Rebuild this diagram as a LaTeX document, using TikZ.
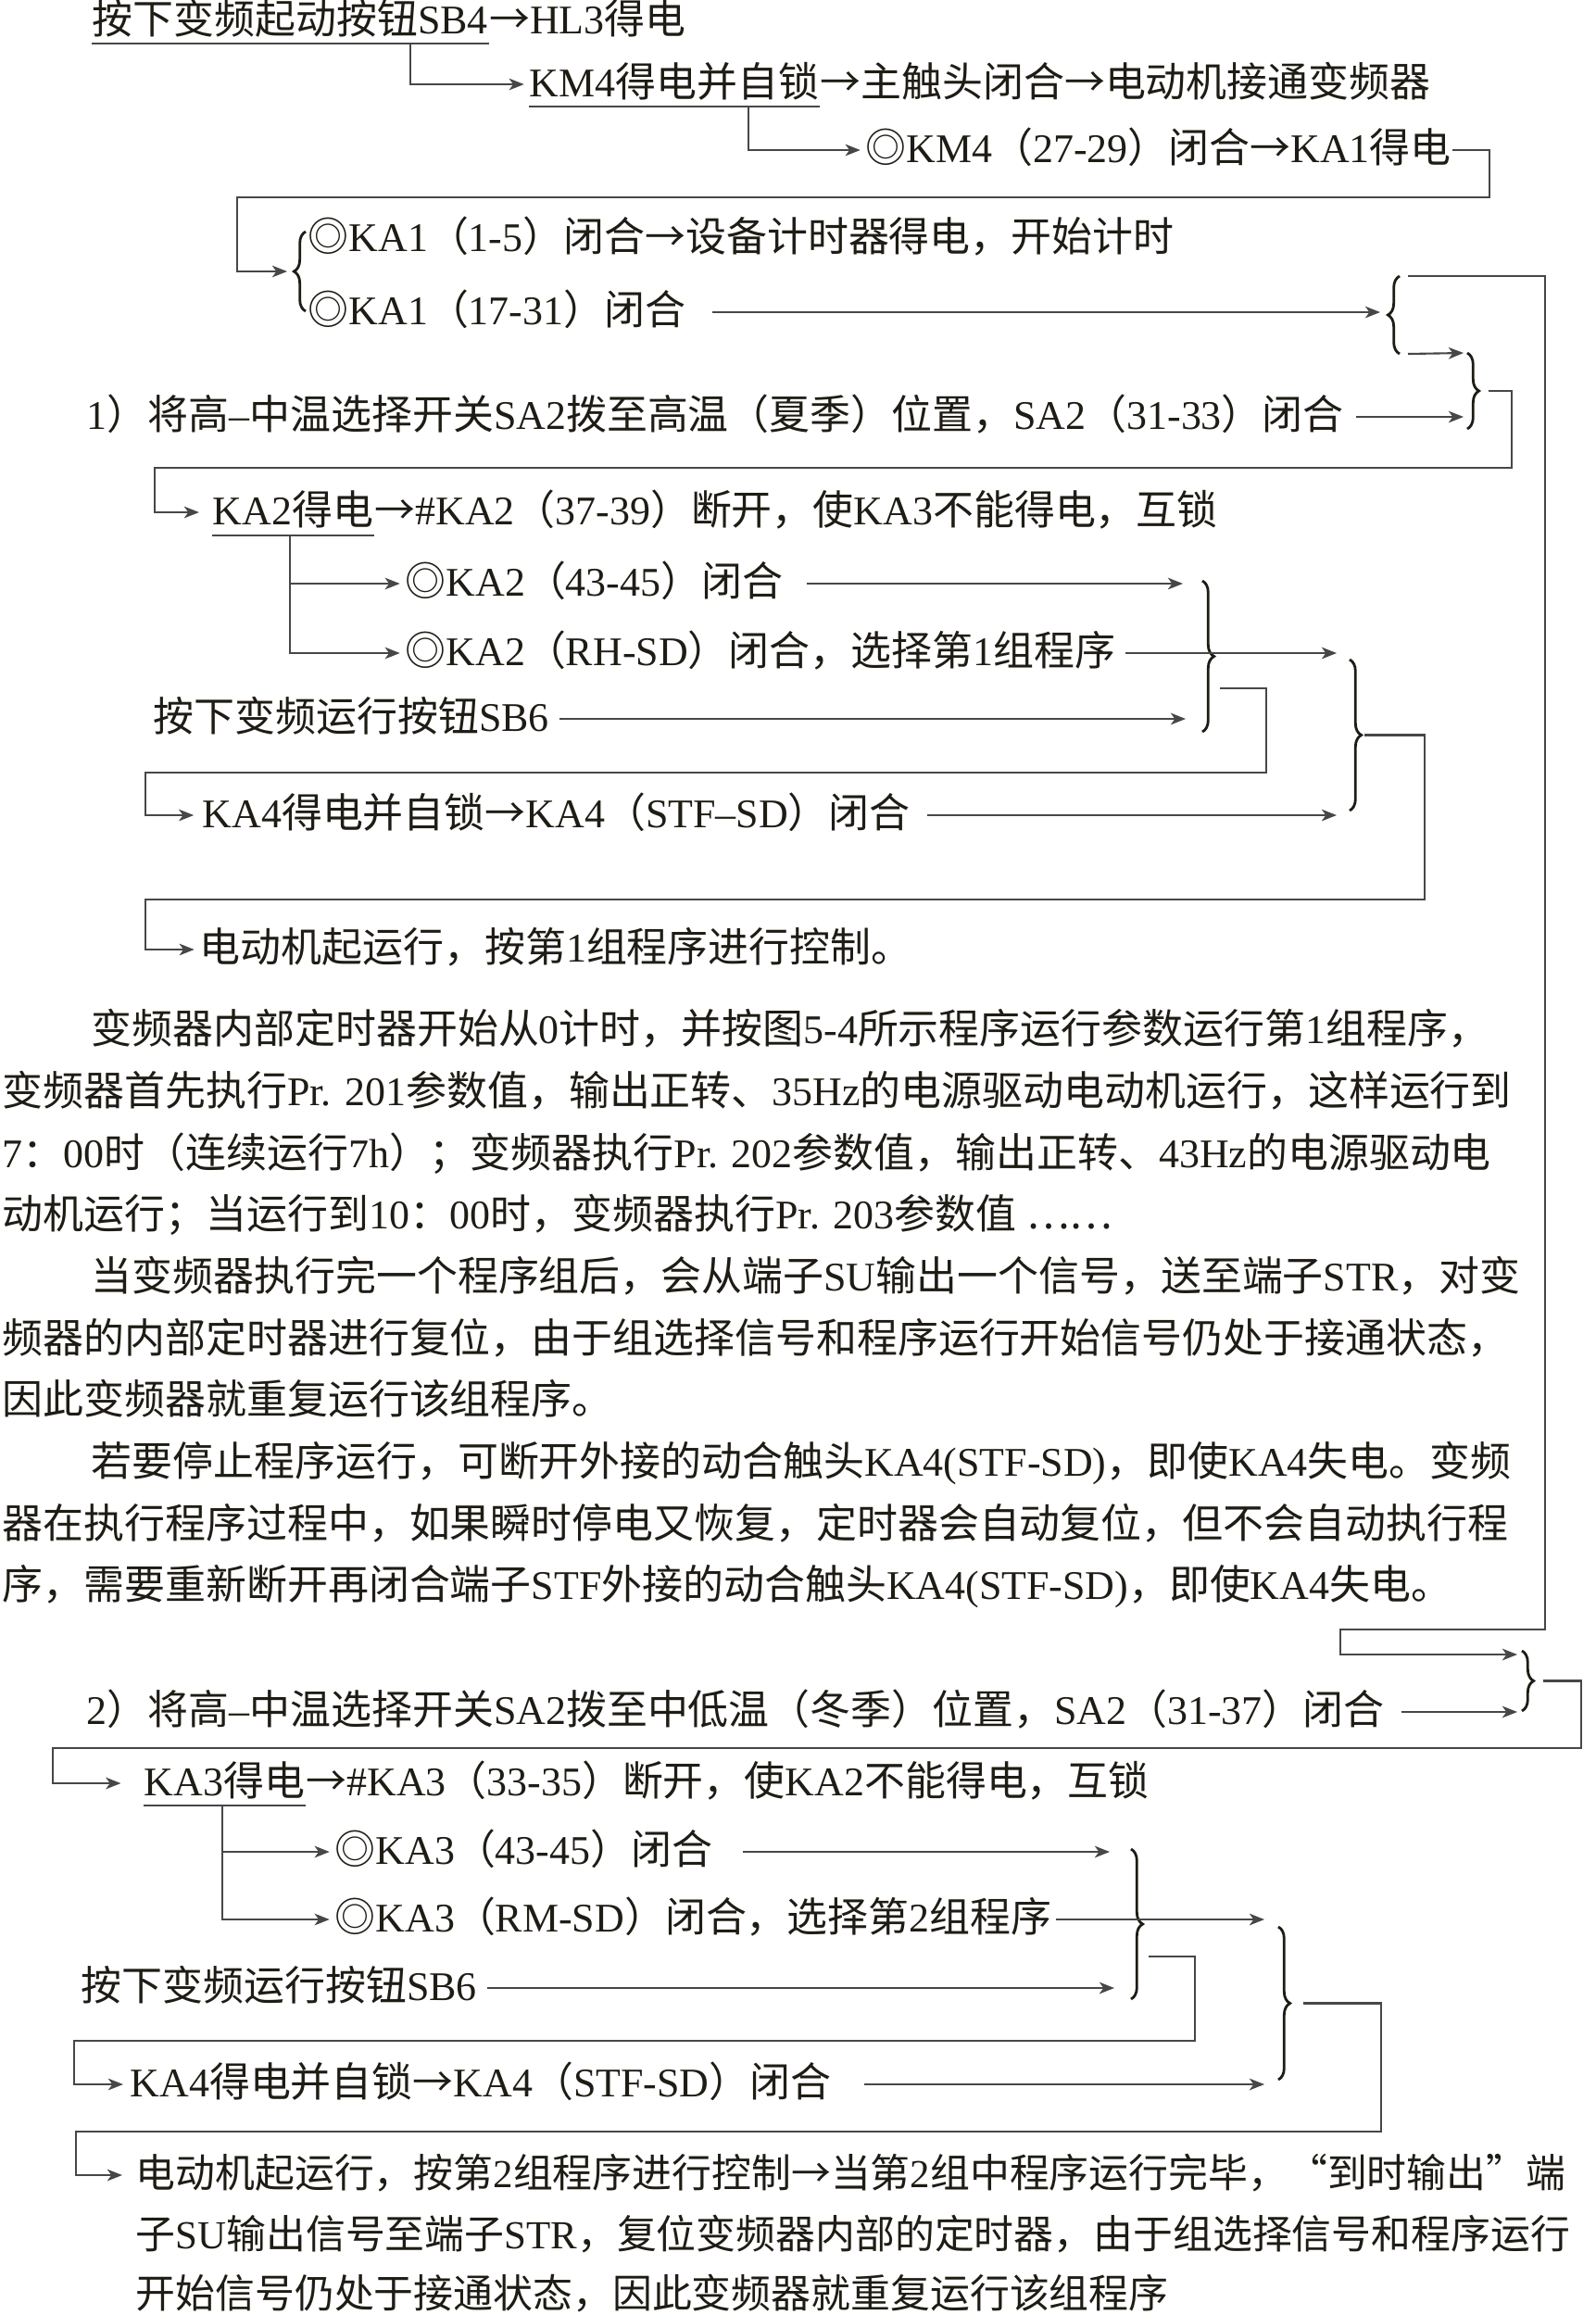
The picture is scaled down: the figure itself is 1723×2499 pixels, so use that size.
\documentclass[tikz,border=0pt]{standalone}
\usepackage{fontspec}
\setmainfont{Liberation Serif}
\newfontfamily\cjkfont{Noto Sans CJK SC}
\usetikzlibrary{arrows.meta,calc,decorations.pathreplacing}
\definecolor{inkc}{HTML}{1E1C14}
\definecolor{wirec}{HTML}{474747}
% CJK characters are set in the CJK font, the rest in Liberation Serif
\XeTeXinterchartokenstate=1
\newXeTeXintercharclass\cjkclass
\newcount\cjkc
\def\setcjkrange#1#2{\cjkc=#1 \loop \XeTeXcharclass\cjkc=\cjkclass \ifnum\cjkc<#2 \advance\cjkc by 1 \repeat}
\setcjkrange{"4E00}{"9FFF}
\setcjkrange{"3000}{"303F}
\setcjkrange{"FF00}{"FFEF}
\XeTeXcharclass"25CE=\cjkclass
\XeTeXcharclass"2192=\cjkclass
\XeTeXcharclass"201C=\cjkclass
\XeTeXcharclass"201D=\cjkclass
\XeTeXcharclass"2026=\cjkclass
\XeTeXinterchartoks 0 \cjkclass={\cjkfont}
\XeTeXinterchartoks 4095 \cjkclass={\cjkfont}
\XeTeXinterchartoks \cjkclass 0={\rmfamily}
\XeTeXinterchartoks \cjkclass 4095={\rmfamily}
\begin{document}
\begin{tikzpicture}[x=0.1mm,y=-0.1mm,
  every node/.style={font=\fontsize{12.5}{15}\selectfont,text=inkc},
  txt/.style={anchor=west,inner sep=0pt,text height=0.88em,text depth=0.12em},
  txtb/.style={txt,font=\fontsize{12.2}{15}\selectfont},
  wire/.style={draw=wirec,line width=0.6pt},
  arr/.style={wire,-{Stealth[length=4.6pt,width=3.6pt,inset=1.3pt]}},
  brc/.style={draw=inkc,line width=0.8pt,decorate,decoration={brace,amplitude=3.6pt}}]
\useasboundingbox (0,0) rectangle (1723,2499);
% part 1
\node[txt] (sb4) at (99,23) {按下变频起动按钮SB4};
\node[txt] (hl3) at (sb4.east) {→HL3得电};
\node[txt] (km4) at (571,91) {KM4得电并自锁};
\node[txt] (km4m) at (km4.east) {→主触头闭合→电动机接通变频器};
\node[txt] (km4c) at (934,162) {◎KM4（27-29）闭合→KA1得电};
\node[txt] (ka1a) at (332,258) {◎KA1（1-5）闭合→设备计时器得电，开始计时};
\node[txt] (ka1b) at (332,337) {◎KA1（17-31）闭合};
\node[txt] (sa2h) at (93,450) {1）将高–中温选择开关SA2拨至高温（夏季）位置，SA2（31-33）闭合};
\node[txt] (ka2) at (229,553) {KA2得电};
\node[txt] (ka2m) at (ka2.east) {→\#KA2（37-39）断开，使KA3不能得电，互锁};
\node[txt] (ka2a) at (437,630) {◎KA2（43-45）闭合};
\node[txt] (ka2b) at (437,705) {◎KA2（RH-SD）闭合，选择第1组程序};
\node[txt] (sb6) at (165,776) {按下变频运行按钮SB6};
\node[txt] (ka4) at (218,880) {KA4得电并自锁→KA4（STF–SD）闭合};
\node[txt] (run1) at (215,1025) {电动机起运行，按第1组程序进行控制。};
% text
\node[txt] (p1) at (98,1113) {变频器内部定时器开始从0计时，并按图5-4所示程序运行参数运行第1组程序，};
\node[txt] (p2) at (2,1180) {变频器首先执行Pr. 201参数值，输出正转、35Hz的电源驱动电动机运行，这样运行到};
\node[txt] (p3) at (2,1247) {7：00时（连续运行7h）；变频器执行Pr. 202参数值，输出正转、43Hz的电源驱动电};
\node[txt] (p4) at (2,1313) {动机运行；当运行到10：00时，变频器执行Pr. 203参数值 ……};
\node[txt] (p5) at (98,1380) {当变频器执行完一个程序组后，会从端子SU输出一个信号，送至端子STR，对变};
\node[txt] (p6) at (2,1447) {频器的内部定时器进行复位，由于组选择信号和程序运行开始信号仍处于接通状态，};
\node[txt] (p7) at (2,1513) {因此变频器就重复运行该组程序。};
\node[txt] (p8) at (98,1580) {若要停止程序运行，可断开外接的动合触头KA4(STF-SD)，即使KA4失电。变频};
\node[txt] (p9) at (2,1647) {器在执行程序过程中，如果瞬时停电又恢复，定时器会自动复位，但不会自动执行程};
\node[txt] (p10) at (2,1713) {序，需要重新断开再闭合端子STF外接的动合触头KA4(STF-SD)，即使KA4失电。};
% part 2
\node[txt] (sa2l) at (93,1848) {2）将高–中温选择开关SA2拨至中低温（冬季）位置，SA2（31-37）闭合};
\node[txt] (ka3) at (155,1925) {KA3得电};
\node[txt] (ka3m) at (ka3.east) {→\#KA3（33-35）断开，使KA2不能得电，互锁};
\node[txt] (ka3a) at (361,1999) {◎KA3（43-45）闭合};
\node[txt] (ka3b) at (361,2072) {◎KA3（RM-SD）闭合，选择第2组程序};
\node[txt] (sb6b) at (87,2146) {按下变频运行按钮SB6};
\node[txt] (ka4b) at (140,2250) {KA4得电并自锁→KA4（STF-SD）闭合};
\node[txtb] (run2) at (146,2348) {电动机起运行，按第2组程序进行控制→当第2组中程序运行完毕，“到时输出”端};
\node[txtb] (run2b) at (146,2414) {子SU输出信号至端子STR，复位变频器内部的定时器，由于组选择信号和程序运行};
\node[txtb] (run2c) at (146,2478) {开始信号仍处于接通状态，因此变频器就重复运行该组程序};
% braces
\coordinate (bAt) at (330,250); \coordinate (bAb) at (330,336);
\coordinate (bBt) at (1511,298); \coordinate (bBb) at (1511,382);
\coordinate (bCt) at (1584,381); \coordinate (bCb) at (1584,463);
\coordinate (bDt) at (1298,627); \coordinate (bDb) at (1298,790);
\coordinate (bEt) at (1457,712); \coordinate (bEb) at (1457,875);
\coordinate (bFt) at (1643,1782); \coordinate (bFb) at (1643,1847);
\coordinate (bGt) at (1221,1996); \coordinate (bGb) at (1221,2158);
\coordinate (bHt) at (1380,2080); \coordinate (bHb) at (1380,2245);
\draw[brc] (bAb) -- (bAt); \draw[brc] (bBb) -- (bBt);
\draw[brc] (bCt) -- (bCb); \draw[brc] (bDt) -- (bDb); \draw[brc] (bEt) -- (bEb);
\draw[brc] (bFt) -- (bFb); \draw[brc] (bGt) -- (bGb); \draw[brc] (bHt) -- (bHb);
% underlines
\coordinate (u1) at ([yshift=-1.5pt]sb4.south west);
\coordinate (u2) at ([yshift=-1.5pt]km4.south west);
\coordinate (u3) at ([yshift=-2pt]ka2.south west);
\coordinate (u4) at ([yshift=-1.5pt]ka3.south west);
\draw[wire] (u1) -- (u1 -| sb4.east); \draw[wire] (u2) -- (u2 -| km4.east);
\draw[wire] (u3) -- (u3 -| ka2.east); \draw[wire] (u4) -- (u4 -| ka3.east);
% connectors, part 1
\coordinate (r1) at (1608,213); \coordinate (l1) at (256,213); \coordinate (eA) at (310,293);
\coordinate (eB) at (1490,0); \coordinate (eC) at (1580,0);
\coordinate (rr) at (1668,1759); \coordinate (s2) at (1447,1786);
\coordinate (r2) at (1632,505); \coordinate (l2) at (167,505);
\coordinate (eD) at (1277,0); \coordinate (eE) at (1443,0); \coordinate (eD2) at (1280,0);
\coordinate (r4) at (1367,834); \coordinate (l4) at (157,834);
\coordinate (r5) at (1538,971); \coordinate (l5) at (157,971);
\draw[arr,shorten >=1.5pt] ($(u1)+(344,0)$) |- (km4.west);
\draw[arr,shorten >=1.5pt] ($(u2)+(237,0)$) |- (km4c.west);
\draw[arr] (km4c.east) -| (r1) -- (l1) |- (eA);
\draw[arr,shorten <=8pt] (ka1b.east) -- (ka1b.east -| eB);
\draw[arr] ($(bBt)+(9,0)$) -| (rr) -| (s2) -- ($(bFt)+(-5,4)$);
\draw[arr] ($(bBb)+(9,0)$) -- ($(bCt)+(-4,0)$);
\draw[arr,shorten <=3.5pt] (sa2h.east) -- (sa2h.east -| eC);
\draw[arr,shorten >=4pt] ($(bCt)!0.5!(bCb)+(23,0)$) -| (r2) -- (l2) |- (ka2.west);
\draw[arr,shorten >=1.5pt] ($(u3)+(84,0)$) |- (ka2a.west);
\draw[arr,shorten >=1.5pt] ($(u3)+(84,0)$) |- (ka2b.west);
\draw[arr,shorten <=7pt] (ka2a.east) -- (ka2a.east -| eD);
\draw[arr,shorten <=3pt] (ka2b.east) -- (ka2b.east -| eE);
\draw[arr,shorten <=3pt] (sb6.east) -- (sb6.east -| eD2);
\draw[arr,shorten >=2.5pt] ($(bDt)+(19,116)$) -| (r4) -- (l4) |- (ka4.west);
\draw[arr,shorten <=5pt] (ka4.east) -- (ka4.east -| eE);
\draw[arr,shorten >=1.5pt] ($(bEt)!0.5!(bEb)+(16,0)$) -| (r5) -- (l5) |- (run1.west);
% connectors, part 2
\coordinate (eF) at (1638,0); \coordinate (r6) at (1707,1887); \coordinate (l6) at (57,1887);
\coordinate (eG) at (1198,0); \coordinate (eH) at (1365,0); \coordinate (eG2) at (1203,0);
\coordinate (r7) at (1290,2203); \coordinate (l7) at (80,2203);
\coordinate (r8) at (1491,2301); \coordinate (l8) at (82,2301);
\draw[arr,shorten <=5pt] (sa2l.east) -- (sa2l.east -| eF);
\draw[arr,shorten >=7pt] ($(bFt)!0.5!(bFb)+(23,0)$) -| (r6) -- (l6) |- (ka3.west);
\draw[arr,shorten >=1.5pt] ($(u4)+(85,0)$) |- (ka3a.west);
\draw[arr,shorten >=1.5pt] ($(u4)+(85,0)$) |- (ka3b.west);
\draw[arr,shorten <=9pt] (ka3a.east) -- (ka3a.east -| eG);
\draw[arr,shorten <=1pt] (ka3b.east) -- (ka3b.east -| eH);
\draw[arr,shorten <=3pt] (sb6b.east) -- (sb6b.east -| eG2);
\draw[arr,shorten >=2pt] ($(bGt)+(19,116)$) -| (r7) -- (l7) |- (ka4b.west);
\draw[arr,shorten <=10pt] (ka4b.east) -- (ka4b.east -| eH);
\draw[arr,shorten >=4pt] ($(bHt)!0.5!(bHb)+(27,0)$) -| (r8) -- (l8) |- (run2.west);
\end{tikzpicture}
\end{document}
